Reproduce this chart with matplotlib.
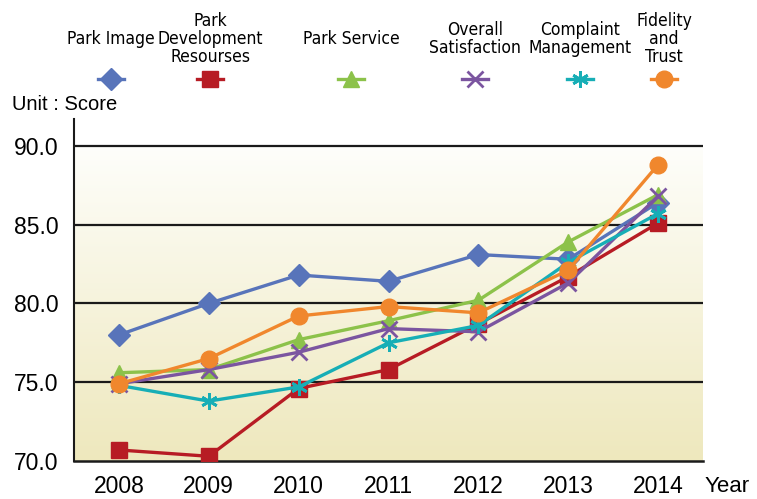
import matplotlib.pyplot as plt
import numpy as np
from matplotlib.lines import Line2D
from matplotlib.colors import LinearSegmentedColormap

plt.rcParams['font.family'] = ['Liberation Sans', 'DejaVu Sans']

years = ['2008', '2009', '2010', '2011', '2012', '2013', '2014']
series_names = ['Park Image', 'Park\nDevelopment\nResourses', 'Park Service',
                'Overall\nSatisfaction', 'Complaint\nManagement', 'Fidelity\nand\nTrust']
park_image = [78.0, 80.0, 81.8, 81.4, 83.1, 82.8, 86.4]
park_development = [70.7, 70.3, 74.6, 75.8, 78.7, 81.7, 85.1]
park_service = [75.6, 75.8, 77.7, 78.9, 80.2, 83.9, 86.9]
overall_satisfaction = [74.9, 75.8, 76.9, 78.4, 78.2, 81.3, 86.8]
complaint_management = [74.8, 73.8, 74.7, 77.5, 78.6, 82.6, 85.7]
fidelity_trust = [74.9, 76.5, 79.2, 79.8, 79.4, 82.1, 88.8]

all_series = [park_image, park_development, park_service,
              overall_satisfaction, complaint_management, fidelity_trust]
colors = ['#5874BA', '#B71C24', '#8CC24A', '#7B55A0', '#17AEB6', '#F0872D']
markers = ['D', 's', '^', 'x', (6, 2, 0), 'o']
msizes = [11, 11, 11, 11, 12, 12]

fig = plt.figure(figsize=(7.57, 4.99), dpi=100)
ax = fig.add_axes([74 / 757, 1 - 461 / 499, (703 - 74) / 757, (461 - 119) / 499])

# gradient background from 70 to 90
grad = np.linspace(0, 1, 256).reshape(-1, 1)
cmap = LinearSegmentedColormap.from_list('bg', ['#EEE8BD', '#FEFEFB'])
ax.imshow(grad, extent=[-0.5, 6.5, 70, 90], origin='lower', aspect='auto',
          cmap=cmap, zorder=0)

x = np.arange(len(years))
for vals, c, m, ms in zip(all_series, colors, markers, msizes):
    thin = m == 'x' or isinstance(m, tuple)
    ax.plot(x, vals, color=c, lw=2.4, marker=m, markersize=ms,
            markeredgewidth=2 if thin else 1, markeredgecolor=c, zorder=3)

ax.set_xlim(-0.5, 6.5)
ax.set_ylim(70, 91.7)
ax.set_yticks([70, 75, 80, 85, 90])
ax.set_yticklabels(['70.0', '75.0', '80.0', '85.0', '90.0'])
ax.set_xticks(x)
ax.set_xticklabels(years)
ax.tick_params(axis='both', length=0, labelsize=16.5)
ax.tick_params(axis='x', pad=10)
ax.tick_params(axis='y', pad=11)
for yv in [75, 80, 85, 90]:
    ax.axhline(yv, color='#1a1a1a', lw=1.6, zorder=1)
for s in ['top', 'right']:
    ax.spines[s].set_visible(False)
ax.spines['left'].set_linewidth(1.5)
ax.spines['bottom'].set_linewidth(1.8)
ax.spines['left'].set_color('#1a1a1a')
ax.spines['bottom'].set_color('#1a1a1a')

fig.text(12 / 757, 1 - 104 / 499, 'Unit : Score', fontsize=14.5, va='center', ha='left')
fig.text(705 / 757, 1 - 487 / 499, 'Year', fontsize=16, va='center', ha='left')

# legend: label above marker
leg_x = [111, 210, 351, 475, 580, 664]
for lx, name, c, m, ms in zip(leg_x, series_names, colors, markers, msizes):
    fig.text(lx / 757, 1 - 39 / 499, name, fontsize=12.5, ha='center', va='center',
             linespacing=1.0, family=['DejaVu Sans'], fontstretch='condensed')
    line = Line2D([(lx - 13) / 757, (lx + 13) / 757], [1 - 79 / 499] * 2,
                  transform=fig.transFigure, color=c, lw=2.4)
    fig.add_artist(line)
    thin = m == 'x' or isinstance(m, tuple)
    pt = Line2D([lx / 757], [1 - 79 / 499], transform=fig.transFigure, color=c,
                marker=m, markersize=ms, markeredgecolor=c,
                markeredgewidth=2 if thin else 1, linestyle='none')
    fig.add_artist(pt)

fig.savefig('out.png', dpi=100)
